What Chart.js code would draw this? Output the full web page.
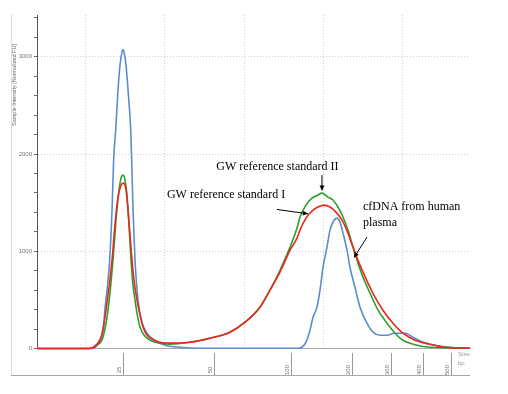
<!DOCTYPE html>
<html><head><meta charset="utf-8">
<script src="https://cdn.jsdelivr.net/npm/chart.js@4"></script>
<style>html,body{margin:0;padding:0;background:#fff}#wrap{width:508px;height:394px;position:relative}</style>
</head><body><div id="wrap"><canvas id="c"></canvas></div>
<script>
// x = migration position (arbitrary units), y = Sample Intensity [Normalized FU]
const blueX=[4.0,10.6,11.3,11.6,12.0,12.3,12.5,12.8,13.1,13.4,13.6,13.86,14.15,14.4,14.65,14.78,14.91,15.16,15.41,15.75,15.87,16.04,16.29,16.67,17.17,17.8,18.8,20.06,21.95,24.47,36.8,37.3,37.8,38.3,38.68,39.18,39.56,39.94,40.44,40.82,41.19,41.7,42.08,42.45,42.96,43.33,43.96,44.59,45.47,46.23,47.11,47.99,48.99,50.25,51.26,52.52,54.03,55.91,58.43];
const blueY=[0,0,13,55,116,188,394,620,909,1423,1937,2246,2658,2915,3048,3075,3048,2915,2658,2246,1937,1423,909,497,271,157,85,34,13,3,3,13,65,188,322,425,600,836,1043,1218,1300,1341,1300,1187,1012,836,631,425,260,168,137,137,157,157,116,65,34,13,3];
const greenX=[4.0,10.6,11.5,12.26,12.89,13.52,13.9,14.28,14.53,14.78,15.03,15.28,15.53,15.79,16.04,16.29,16.54,16.92,17.55,18.18,19.43,20.69,23.21,25.72,28.24,30.13,32.01,33.27,34.53,35.79,36.67,37.04,37.8,38.55,39.31,39.81,40.57,41.19,41.82,42.45,43.08,43.71,44.34,44.97,45.85,46.86,47.99,48.99,50.0,51.26,53.4,58.43];
const greenY=[0,0,34,116,394,909,1321,1630,1752,1783,1732,1578,1270,909,651,497,363,219,127,85,55,44,65,106,168,271,425,600,805,1043,1239,1352,1475,1547,1578,1598,1557,1527,1455,1352,1218,1043,878,734,569,394,260,157,85,44,13,3];
const redX=[4.0,10.6,11.38,12.0,12.64,13.4,13.77,14.15,14.53,14.84,15.16,15.41,15.66,15.91,16.16,16.54,16.92,17.3,17.8,18.18,19.43,20.69,23.21,25.72,28.24,30.13,32.01,33.27,34.53,35.79,36.67,37.04,37.8,38.68,39.31,40.06,40.82,41.57,42.33,43.08,43.71,44.59,45.6,46.48,47.48,48.74,50.0,51.51,53.4,55.28,58.43];
const redY=[0,0,34,106,394,909,1270,1557,1680,1701,1630,1424,1166,909,703,497,343,219,137,106,65,55,65,106,168,271,425,600,785,1012,1135,1218,1341,1424,1455,1475,1455,1403,1321,1187,1043,857,672,528,394,260,157,85,44,13,3];
const yTickValues=[0,200,400,600,800,1000,1200,1400,1600,1800,2000,2200,2400,2600,2800,3000,3200,3400];
const yLabelValues=[0,1000,2000,3000];
const xGridValues=[10,20,30,40,50];
const ladderBp=[25,50,100,200,300,400,500];
const ladderPos=[14.78,26.23,35.91,43.58,48.49,52.52,56.1];
const yTitle='Sample Intensity [Normalized FU]';
const notes=[
 {lines:['GW reference standard II'],x:34.2,y:1864,align:'center',ax1:39.81,ay1:1783,ax2:39.81,ay2:1625},
 {lines:['GW reference standard I'],x:20.3,y:1578,align:'left',ax1:34.15,ay1:1430,ax2:38.05,ay2:1385},
 {lines:['cfDNA from human','plasma'],x:44.97,y:1453,align:'left',ax1:45.47,ay1:1145,ax2:43.84,ay2:935}
];
const pts=(xs,ys)=>xs.map((x,i)=>({x:x,y:ys[i]}));

function arrow(ctx,x1,y1,x2,y2){
  ctx.beginPath();ctx.moveTo(x1,y1);ctx.lineTo(x2,y2);ctx.stroke();
  const a=Math.atan2(y2-y1,x2-x1),L=5,W=2.5;
  ctx.beginPath();ctx.moveTo(x2,y2);
  ctx.lineTo(x2-L*Math.cos(a)+W*Math.sin(a),y2-L*Math.sin(a)-W*Math.cos(a));
  ctx.lineTo(x2-L*Math.cos(a)-W*Math.sin(a),y2-L*Math.sin(a)+W*Math.cos(a));
  ctx.closePath();ctx.fill();
}

const deco={id:'deco',afterDraw(chart){
  const ctx=chart.ctx,xs=chart.scales.x,ys=chart.scales.y,ca=chart.chartArea;
  ctx.save();
  ctx.strokeStyle='#dcdcdc';ctx.lineWidth=1;
  ctx.beginPath();ctx.moveTo(11.5,ca.top-1);ctx.lineTo(11.5,376);ctx.stroke();
  ctx.strokeStyle='#a8a8a8';
  ctx.beginPath();ctx.moveTo(11,375.5);ctx.lineTo(ca.right,375.5);ctx.stroke();
  ctx.fillStyle='#777';ctx.font='6px "Liberation Sans", Arial, sans-serif';
  ladderPos.forEach((p,i)=>{
    const px=Math.round(xs.getPixelForValue(p))+0.5;
    ctx.strokeStyle='#999';
    ctx.beginPath();ctx.moveTo(px,353);ctx.lineTo(px,375);ctx.stroke();
    ctx.save();ctx.translate(px-4,370);ctx.rotate(-Math.PI/2);
    ctx.textAlign='center';ctx.textBaseline='middle';
    ctx.fillText(String(ladderBp[i]),0,0);ctx.restore();
  });
  ctx.textAlign='left';ctx.textBaseline='middle';
  ctx.fillStyle='#999';
  ctx.fillText('Size:',458,354);ctx.fillText('bp',458,363);
  ctx.save();ctx.translate(14,85);ctx.rotate(-Math.PI/2);
  ctx.fillStyle='#666';ctx.textAlign='center';ctx.textBaseline='middle';
  ctx.font='5.5px "Liberation Sans", Arial, sans-serif';
  ctx.fillText(yTitle,0,0);ctx.restore();
  ctx.fillStyle='#000';ctx.strokeStyle='#000';ctx.lineWidth=1;
  ctx.font='12px "Liberation Serif", "Times New Roman", serif';
  notes.forEach(n=>{
    const tx=xs.getPixelForValue(n.x),ty=ys.getPixelForValue(n.y);
    ctx.textAlign=n.align;ctx.textBaseline='middle';
    n.lines.forEach((l,k)=>ctx.fillText(l,tx,ty+k*16));
    arrow(ctx,xs.getPixelForValue(n.ax1),ys.getPixelForValue(n.ay1),xs.getPixelForValue(n.ax2),ys.getPixelForValue(n.ay2));
  });
  ctx.restore();
}};

const ds=(label,data,color)=>({label,data,borderColor:color,borderWidth:1.6,pointRadius:0,fill:false,cubicInterpolationMode:'monotone',clip:4});
new Chart(document.getElementById('c'),{
  type:'line',
  data:{datasets:[
    ds('GW reference standard I',pts(redX,redY),'#e8281e'),
    ds('GW reference standard II',pts(greenX,greenY),'#2e9e2e'),
    ds('cfDNA from human plasma',pts(blueX,blueY),'#5b8ccc')
  ]},
  options:{
    responsive:true,maintainAspectRatio:false,animation:false,
    layout:{padding:{top:15,right:38,left:0,bottom:0}},
    plugins:{legend:{display:false},tooltip:{enabled:false}},
    scales:{
      x:{type:'linear',min:3.96,max:58.43,
        afterBuildTicks:s=>{s.ticks=xGridValues.map(v=>({value:v}));},
        ticks:{display:false},
        grid:{color:'#cfcfcf',drawTicks:false,lineWidth:1},
        border:{color:'#aaaaaa',width:1,dash:[1,2]},
        afterFit:s=>{s.height=45.5;}
      },
      y:{min:0,max:3430,
        afterBuildTicks:s=>{s.ticks=yTickValues.map(v=>({value:v}));},
        ticks:{autoSkip:false,padding:2,color:'#777',font:{size:6,family:'"Liberation Sans", Arial, sans-serif'},
          callback:v=>yLabelValues.includes(v)?String(v):''},
        grid:{color:c=>(c.tick&&c.tick.value>0&&yLabelValues.includes(c.tick.value))?'#cfcfcf':'rgba(0,0,0,0)',tickColor:'#666',tickLength:3,lineWidth:1},
        border:{color:'#555',width:1,dash:[1,2]},
        afterFit:s=>{s.width=37;}
      }
    }
  },
  plugins:[deco]
});
</script></body></html>
